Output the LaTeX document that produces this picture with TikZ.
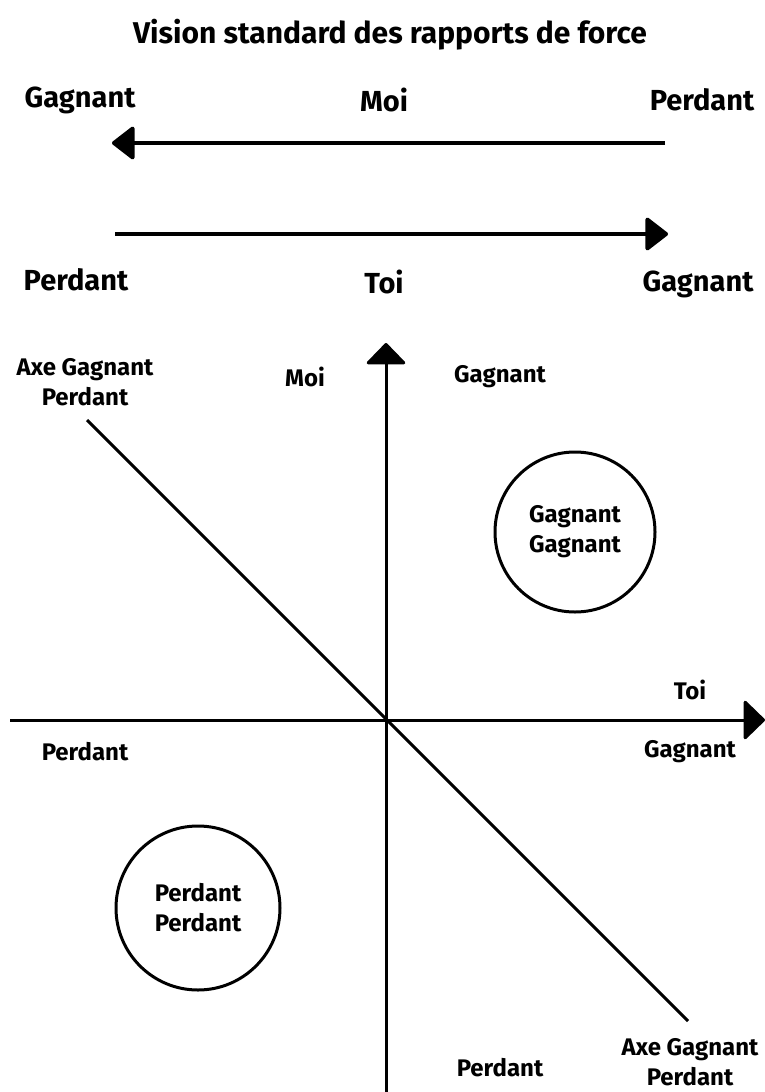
\documentclass[tikz,border=0pt]{standalone}
\usepackage{fontspec}
\setmainfont{Fira Sans}
\usetikzlibrary{arrows.meta}
\begin{document}
\begin{tikzpicture}[x=1pt,y=-1pt,
  big/.style={font=\bfseries\fontsize{29}{32}\selectfont, inner sep=0pt},
  titlefont/.style={font=\bfseries\fontsize{30}{33}\selectfont, inner sep=0pt},
  small/.style={font=\bfseries\fontsize{24}{30}\selectfont, inner sep=0pt, align=center},
  thickline/.style={line width=4pt},
  axisline/.style={line width=3pt},
  tip/.style={-{Triangle[length=24pt,width=36pt,round]}},
  axtip/.style={-{Triangle[length=22pt,width=42pt,round]}},
  ring/.style={circle, draw, line width=3pt, minimum size=#1, inner sep=0pt, align=center, font=\bfseries\fontsize{24}{30}\selectfont}]
\useasboundingbox (0,0) rectangle (765,1092);
\node[titlefont] (title) at (390,35) {Vision standard des rapports de force};
\node[big] (g1) at (80,100) {Gagnant};
\node[big] (moi1) at (384,100) {Moi};
\node[big] (p1) at (702,100) {Perdant};
\coordinate (a1s) at (665,143);
\coordinate (a1e) at (112,143);
\draw[thickline,tip] (a1s) -- (a1e);
\coordinate (a2s) at (115,234);
\coordinate (a2e) at (668,234);
\draw[thickline,tip] (a2s) -- (a2e);
\node[big] (p2) at (76,280) {Perdant};
\node[big] (toi1) at (384,282) {Toi};
\node[big] (g2) at (698,284) {Gagnant};
% axes
\coordinate (vb) at (386,1092);
\coordinate (vt) at (386,343);
\draw[axisline,axtip] (vb) -- (vt);
\coordinate (hl) at (10,720);
\coordinate (hr) at (765,720);
\draw[axisline,axtip] (hl) -- (hr);
\coordinate (d1) at (87,420);
\coordinate (d2) at (688,1021);
\draw[axisline] (d1) -- (d2);
% labels
\node[small] (axe1) at (85,382) {Axe Gagnant\\Perdant};
\node[small] (moi2) at (305,377) {Moi};
\node[small] (g3) at (500,377) {Gagnant};
\node[ring=160pt] (gg) at (575,532) {Gagnant\\Gagnant};
\node[small] (toi2) at (690,690) {Toi};
\node[small] (g4) at (690,752) {Gagnant};
\node[small] (p3) at (85,752) {Perdant};
\node[ring=164pt] (pp) at (198,908) {Perdant\\Perdant};
\node[small] (p4) at (500,1068) {Perdant};
\node[small] (axe2) at (690,1062) {Axe Gagnant\\Perdant};
\end{tikzpicture}
\end{document}
